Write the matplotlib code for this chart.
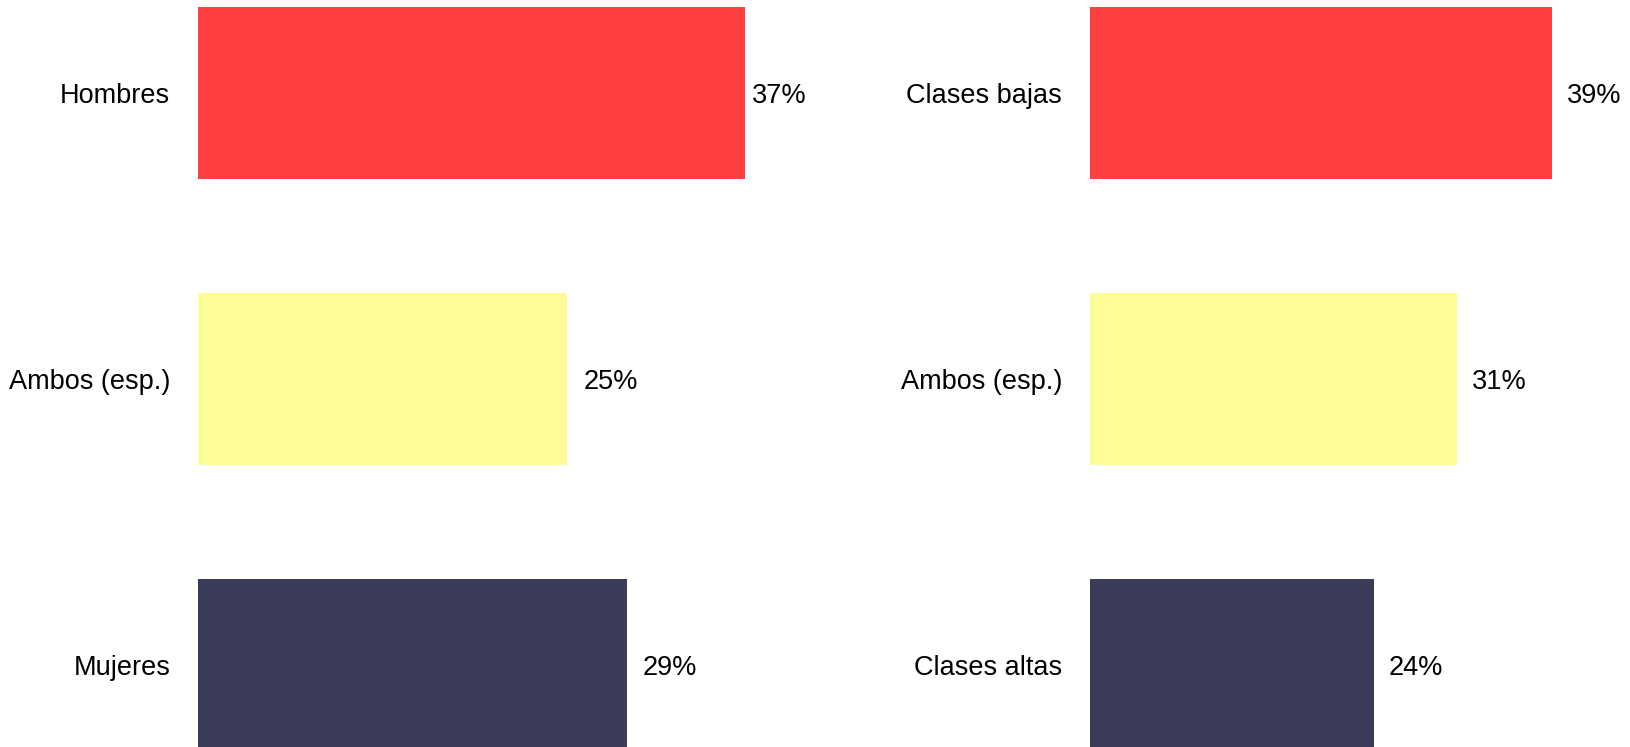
import matplotlib
matplotlib.use("Agg")
import matplotlib.pyplot as plt
from matplotlib import font_manager

# panel data (top to bottom)
left_cats = ["Hombres", "Ambos (esp.)", "Mujeres"]
left_vals = [37, 25, 29]
right_cats = ["Clases bajas", "Ambos (esp.)", "Clases altas"]
right_vals = [39, 31, 24]
colors = ["#FF4043", "#FDFD98", "#3A3C5A"]

names = {f.name for f in font_manager.fontManager.ttflist}
fam = "Liberation Sans Narrow" if "Liberation Sans Narrow" in names else "Liberation Sans"
fs = 22 if fam == "Liberation Sans Narrow" else 19.5
plt.rcParams["font.family"] = [fam, "DejaVu Sans"]

W, H = 1631, 747
fig = plt.figure(figsize=(W / 100, H / 100), dpi=100)


def panel(x0, x1, xmax, cats, vals):
    ax = fig.add_axes([x0 / W, 0, (x1 - x0) / W, 1])
    ypos = list(range(len(cats)))
    ax.barh(ypos, vals, height=0.6, color=colors)
    ax.set_xlim(0, xmax)
    ax.set_ylim(2.2867, -0.3252)
    k = xmax / 41.07
    for y, v in zip(ypos, vals):
        ax.text(min(v + 1.1 * k, xmax - 3.6 * k), y, f"{v}%",
                va="center_baseline", ha="left", fontsize=fs)
    ax.set_yticks(ypos)
    ax.set_yticklabels(cats, fontsize=fs)
    ax.tick_params(axis="y", length=0, pad=20)
    ax.set_xticks([])
    for s in ax.spines.values():
        s.set_visible(False)
    return ax


panel(198, 805, 41.07, left_cats, left_vals)
panel(1090, 1631, 45.65, right_cats, right_vals)

fig.savefig("out.png", dpi=100)
